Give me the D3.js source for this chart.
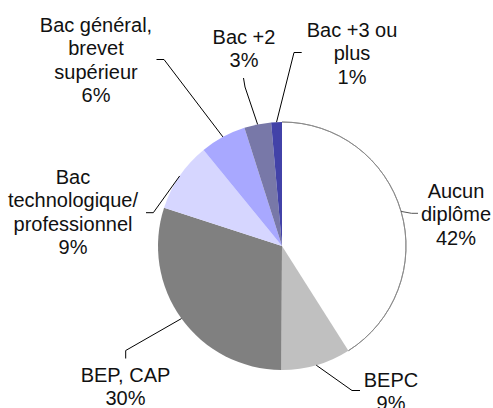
<!DOCTYPE html>
<html>
<head>
<meta charset="utf-8">
<script src="https://cdn.jsdelivr.net/npm/d3@7"></script>
<style>
  body { margin: 0; background: #fff; }
  text { font-family: "Liberation Sans", Arial, sans-serif; font-size: 20px; fill: #111; }
</style>
</head>
<body>
<div id="chart"></div>
<script>
// slices, clockwise from 12 o'clock
const categories = [
    "Aucun\ndiplôme",
    "BEPC",
    "BEP, CAP",
    "Bac\ntechnologique/\nprofessionnel",
    "Bac général,\nbrevet\nsupérieur",
    "Bac +2",
    "Bac +3 ou\nplus"
];
const shares = [41.0, 9.1, 29.9, 9.1, 6.0, 3.5, 1.4];
const pctLabels = ["42%", "9%", "30%", "9%", "6%", "3%", "1%"];
const colors = ["#ffffff", "#c0c0c0", "#808080", "#d6d6ff", "#a8a8ff", "#7878a8", "#4242a8"];

// label placement: text centre x, first baseline y, leader elbow and end
const labelLayout = [
    { x: 456, y: 198, elbow: [411.5, 213.3], end: [418, 213.3] },
    { x: 391, y: 387, elbow: [352, 390.5], end: [360, 390.5] },
    { x: 125.5, y: 382, elbow: [125.7, 350.5], end: [125.7, 358.5] },
    { x: 73, y: 184, elbow: [153.3, 212.7], end: [146, 212.7] },
    { x: 96, y: 32, elbow: [164, 59.5], end: [156.5, 59.5] },
    { x: 244, y: 43.5, elbow: [245, 87], end: [243.5, 78] },
    { x: 352, y: 37, elbow: [294, 52.5], end: [301.7, 52.5] }
];

const width = 493, height = 408;
const cx = 282, cy = 246, radius = 124;
const lineHeight = 23.3;

const svg = d3.select("#chart")
    .append("svg")
    .attr("width", width)
    .attr("height", height);

const pie = d3.pie().sort(null).value(d => d)(shares);
const arc = d3.arc().innerRadius(0).outerRadius(radius);
const edgeArc = d3.arc().innerRadius(radius).outerRadius(radius);

const slices = svg.append("g").attr("transform", `translate(${cx},${cy})`);

slices.selectAll("path")
    .data(pie)
    .enter()
    .append("path")
    .attr("d", arc)
    .attr("fill", (d, i) => colors[i]);

// thin grey outline round the white slice only
slices.append("path")
    .attr("d", d3.arc().innerRadius(radius).outerRadius(radius)
        .startAngle(pie[0].startAngle).endAngle(pie[0].endAngle)())
    .attr("fill", "none")
    .attr("stroke", "#888")
    .attr("stroke-width", 0.9);

// leader lines
const leaders = svg.append("g");
pie.forEach((d, i) => {
    const c = edgeArc.centroid(d);
    const lay = labelLayout[i];
    leaders.append("polyline")
        .attr("points", [[cx + c[0], cy + c[1]], lay.elbow, lay.end].map(p => p.join(",")).join(" "))
        .attr("fill", "none")
        .attr("stroke", i === 0 ? "#555" : "#000")
        .attr("stroke-width", 1);
});

// labels
const labels = svg.append("g");
categories.forEach((cat, i) => {
    const lay = labelLayout[i];
    const lines = cat.split("\n").concat([pctLabels[i]]);
    const t = labels.append("text")
        .attr("text-anchor", "middle")
        .attr("x", lay.x)
        .attr("y", lay.y);
    lines.forEach((ln, j) => {
        t.append("tspan")
            .attr("x", lay.x)
            .attr("y", lay.y + j * lineHeight)
            .text(ln);
    });
});
</script>
</body>
</html>
